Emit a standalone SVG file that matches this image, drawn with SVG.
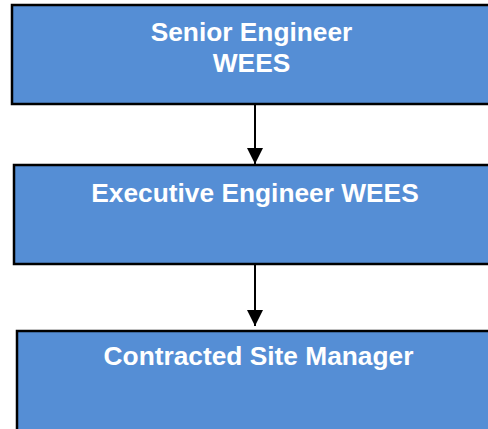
<svg xmlns="http://www.w3.org/2000/svg" width="488" height="429" viewBox="0 0 488 429">
<defs>
<style>
.box{fill:#558ED5;stroke:#000;stroke-width:2.5}
.lbl{font-family:"Liberation Sans",Arial,sans-serif;font-weight:bold;font-size:26.3px;fill:#fff;text-anchor:middle}
.conn{stroke:#000;stroke-width:2;fill:none}
</style>
<marker id="ah" markerWidth="8" markerHeight="8" viewBox="0 0 10 10" refX="10" refY="5" orient="auto" markerUnits="strokeWidth">
<path d="M0,0 L10,5 L0,10 Z" fill="#000"/>
</marker>
</defs>
<g id="node1">
<rect class="box" x="12" y="5" width="480" height="99"/>
<text class="lbl" x="251.5" y="41">Senior Engineer</text>
<text class="lbl" x="251.5" y="72">WEES</text>
</g>
<g id="node2">
<rect class="box" x="14" y="165" width="484" height="99"/>
<text class="lbl" x="255" y="202">Executive Engineer WEES</text>
</g>
<g id="node3">
<rect class="box" x="17" y="331" width="484" height="110"/>
<text class="lbl" x="258.5" y="365">Contracted Site Manager</text>
</g>
<g id="connectors">
<line class="conn" x1="255" y1="104" x2="255" y2="164" marker-end="url(#ah)"/>
<line class="conn" x1="255" y1="264" x2="255" y2="326" marker-end="url(#ah)"/>
</g>
</svg>
